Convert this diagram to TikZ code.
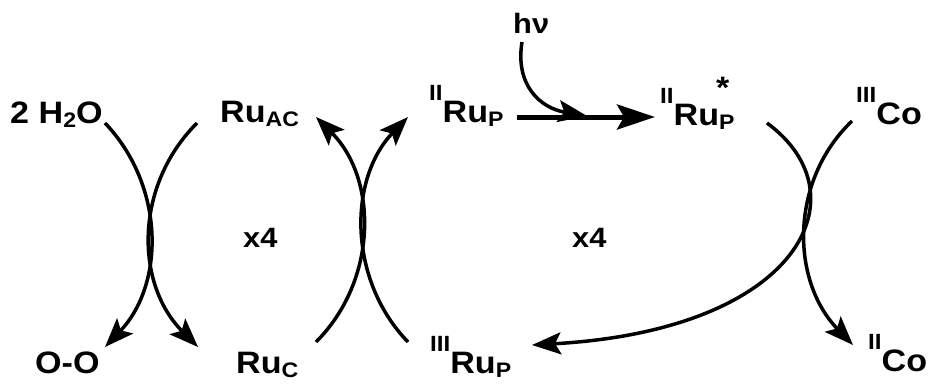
\documentclass[tikz,border=0pt]{standalone}
\usepackage{fontspec}
\setmainfont{Liberation Sans}[FakeStretch=1.1]
\usetikzlibrary{arrows.meta}

% oxidation state before a symbol, index after it
\newcommand{\ox}[1]{\raisebox{0.68em}{\fontsize{22}{22}\selectfont #1}}
\newcommand{\sbs}[1]{\raisebox{-0.15em}{\fontsize{21}{21}\selectfont #1}}
\newcommand{\exc}{\rlap{\kern-3pt\raisebox{0.85em}{*}}}

\begin{document}
\begin{tikzpicture}[x=1pt, y=-1pt,
    >={Stealth[length=29pt, width=22pt, inset=6pt]},
    every node/.style={inner sep=0pt, anchor=base west, font=\fontsize{31}{36}\selectfont\bfseries},
    arc/.style={line width=3.5pt, ->},
    fat/.style={line width=5pt, -{Stealth[length=38pt, width=25pt, inset=7pt]}}]
    \useasboundingbox (0,0) rectangle (931,383);

    % === species ===
    \node (h2o)    at (10,123)  {2 H\sbs{2}O};
    \node (ruac)   at (220,122) {Ru\sbs{AC}};
    \node (ruIIp)  at (429,122) {\ox{II}Ru\sbs{P}};
    \node[font=\fontsize{28}{32}\selectfont\bfseries] (hv) at (513,33) {hν};
    \node (ruIIps) at (660,125) {\ox{II}Ru\exc\sbs{P}};
    \node (coIII)  at (856,124) {\ox{III}Co};
    \node (oo)     at (35,373)  {O-O};
    \node (ruc)    at (236,373) {Ru\sbs{C}};
    \node (ruIIIp) at (430,373) {\ox{III}Ru\sbs{P}};
    \node (coII)   at (868,371) {\ox{II}Co};
    \node[font=\fontsize{28}{32}\selectfont\bfseries] (xa) at (243,247) {x4};
    \node[font=\fontsize{28}{32}\selectfont\bfseries] (xb) at (572,247) {x4};

    % === ends of the arcs ===
    \coordinate (h2o-e)    at (105,123);
    \coordinate (oo-e)     at (105,347);
    \coordinate (ruac-e)   at (197,123);
    \coordinate (ruc-e)    at (198,347);
    \coordinate (ruc-s)    at (316,342);
    \coordinate (ruac-t)   at (316,117);
    \coordinate (ruIIIp-s) at (408,342);
    \coordinate (ruIIp-t)  at (408,117);
    \coordinate (ruIIps-s) at (767,123);
    \coordinate (ruIIIp-t) at (532,345);
    \coordinate (coIII-s)  at (852,121);
    \coordinate (coII-t)   at (853,345);
    \coordinate (hv-s)     at (522,42);
    \coordinate (hv-t)     at (587,116);
    \coordinate (ruIIp-e)  at (517,117);
    \coordinate (ruIIps-t) at (655,117);

    % water oxidation
    \draw[arc] (h2o-e) .. controls (165,186) and (165,284) .. (oo-e);
    \draw[arc] (ruac-e) .. controls (134,186) and (135,284) .. (ruc-e);
    % catalyst regeneration
    \draw[arc] (ruc-s) .. controls (378,280) and (378,179) .. (ruac-t);
    \draw[arc] (ruIIIp-s) .. controls (348,280) and (348,179) .. (ruIIp-t);
    % excitation
    \draw[fat] (ruIIp-e) -- (ruIIps-t);
    \draw[arc] (hv-s) .. controls (515,85) and (540,108) .. (hv-t);
    % quenching by Co
    \draw[arc] (ruIIps-s) .. controls (865,195) and (800,330) .. (ruIIIp-t);
    \draw[arc] (coIII-s) .. controls (790,180) and (790,280) .. (coII-t);
\end{tikzpicture}
\end{document}
